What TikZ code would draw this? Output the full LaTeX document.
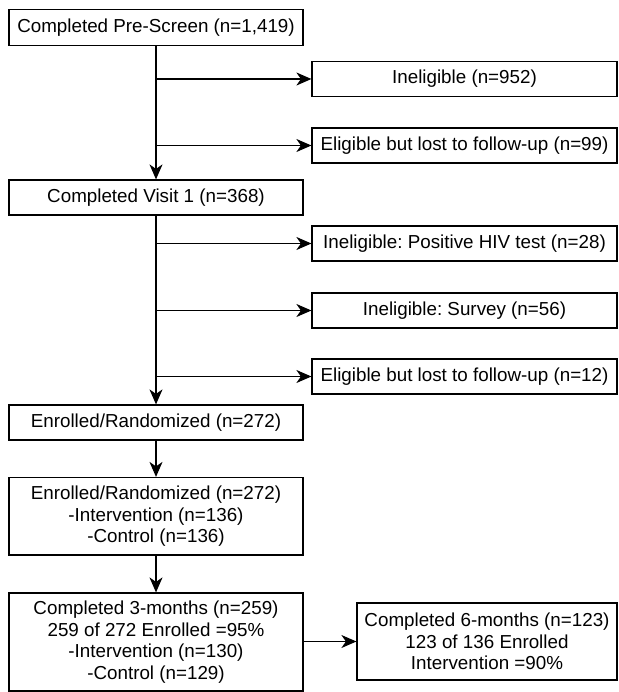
\documentclass[tikz,border=0pt]{standalone}
\usepackage{fontspec}
\setmainfont{Liberation Sans}
\usetikzlibrary{arrows.meta}
\frenchspacing
\begin{document}
\begin{tikzpicture}[x=1pt,y=-1pt,
  box/.style={draw=black, line width=1.2pt, align=center, inner sep=0pt,
    font=\fontsize{18.8}{21.5}\selectfont},
  lbox/.style={box, minimum width=294pt},
  rbox/.style={box, minimum width=305pt, minimum height=35pt},
  arr/.style={line width=1.1pt, -{Stealth[length=15pt, width=13pt, inset=4.5pt]}},
  ln/.style={line width=1pt}]
\useasboundingbox (0,0) rectangle (618,692);
\node[lbox, minimum height=35.5pt] (b1) at (156,27.5) {Completed Pre-Screen (n=1,419)};
\node[rbox] (r1) at (464.5,79) {Ineligible (n=952)};
\node[rbox] (r2) at (464.5,145.5) {Eligible but lost to follow-up (n=99)};
\node[lbox, minimum height=35pt] (b2) at (156,197.5) {Completed Visit 1 (n=368)};
\node[rbox] (r3) at (464.5,243.5) {Ineligible: Positive HIV test (n=28)};
\node[rbox] (r4) at (464.5,310.5) {Ineligible: Survey (n=56)};
\node[rbox] (r5) at (464.5,376.5) {Eligible but lost to follow-up (n=12)};
\node[lbox, minimum height=35pt] (b3) at (156,422.5) {Enrolled/Randomized (n=272)};
\node[lbox, minimum height=77.5pt] (b4) at (156,516.25) {Enrolled/Randomized (n=272)\\-Intervention (n=136)\\-Control (n=136)};
\node[lbox, minimum height=98pt] (b5) at (156,642) {Completed 3-months (n=259)\\259 of 272 Enrolled =95\%\\-Intervention (n=130)\\-Control (n=129)};
\node[box, minimum width=260pt, minimum height=77pt] (b6) at (487,641.5) {Completed 6-months (n=123)\\123 of 136 Enrolled\\Intervention =90\%};
% connectors
\draw[arr] (b1.south) -- (b2.north);
\draw[arr] (b1.south |- r1.west) -- (r1.west);
\draw[arr] (b1.south |- r2.west) -- (r2.west);
\draw[arr] (b2.south) -- (b3.north);
\draw[arr] (b2.south |- r3.west) -- (r3.west);
\draw[arr] (b2.south |- r4.west) -- (r4.west);
\draw[arr] (b2.south |- r5.west) -- (r5.west);
\draw[arr] (b3.south) -- (b4.north);
\draw[arr] (b4.south) -- (b5.north);
\draw[arr] (b5.east |- b6.west) -- (b6.west);
\end{tikzpicture}
\end{document}
